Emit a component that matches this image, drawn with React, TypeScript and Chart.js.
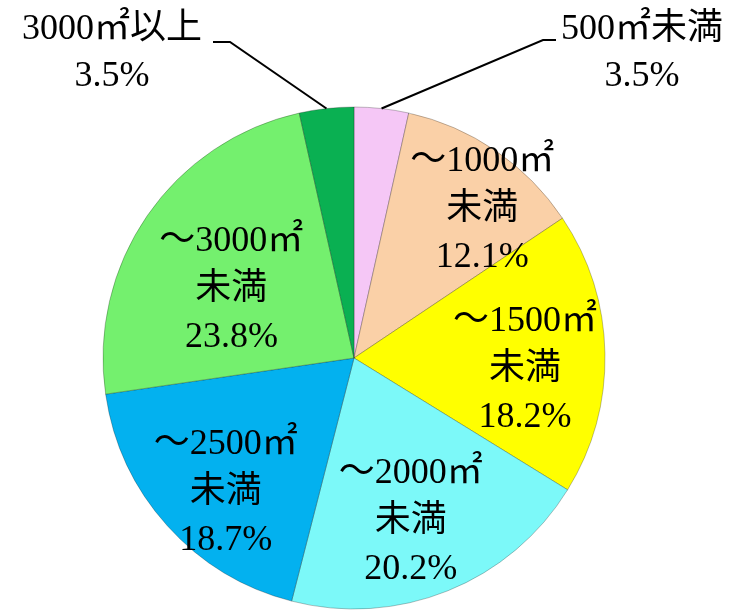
import React, { useEffect, useRef } from "react";
import { Chart, registerables } from "chart.js";

Chart.register(...registerables);

// ---- data ----
const categories = ["500㎡未満", "～1000㎡未満", "～1500㎡未満", "～2000㎡未満", "～2500㎡未満", "～3000㎡未満", "3000㎡以上"];
const shares = [3.5, 12.1, 18.2, 20.2, 18.7, 23.8, 3.5];
const labelTop = ["500㎡未満", "～1000㎡", "～1500㎡", "～2000㎡", "～2500㎡", "～3000㎡", "3000㎡以上"];
const labelMid = ["", "未満", "未満", "未満", "未満", "未満", ""];
const sliceColors = ["#F5C7F6", "#FAD0A7", "#FFFF00", "#7CF9F9", "#03B1EF", "#74F06E", "#0AB052"];

// label placement inside slices (fraction of radius, angle shift in degrees)
const insideRadius = [0, 0.78, 0.683, 0.69, 0.74, 0.56, 0];
const insideShift = [0, 6.5, 5.1, 2.8, -4.4, -5.3, 0];

const FONT = "36px 'Liberation Serif', 'Noto Sans CJK JP', serif";
const LINE = 48;

const callouts: Record<number, { tx: number; ty: number; ex: number; ey: number; hx: number }> = {
  0: { tx: 642, ty: 30, ex: 543, ey: 40, hx: 556 },
  6: { tx: 112, ty: 30, ex: 230, ey: 42, hx: 213 },
};

const labelPlugin = {
  id: "sliceLabels",
  afterDatasetsDraw(chart: any) {
    const ctx = chart.ctx as CanvasRenderingContext2D;
    const meta = chart.getDatasetMeta(0);
    ctx.save();
    ctx.font = FONT;
    ctx.fillStyle = "#000";
    ctx.textAlign = "center";
    ctx.textBaseline = "middle";
    meta.data.forEach((arc: any, i: number) => {
      const { x, y, startAngle, endAngle, outerRadius } = arc.getProps(["x", "y", "startAngle", "endAngle", "outerRadius"], true);
      const mid = (startAngle + endAngle) / 2;
      const pct = shares[i].toFixed(1) + "%";
      const c = callouts[i];
      if (c) {
        const sx = x + Math.cos(mid) * outerRadius;
        const sy = y + Math.sin(mid) * outerRadius;
        ctx.beginPath();
        ctx.strokeStyle = "#000";
        ctx.lineWidth = 2;
        ctx.moveTo(sx, sy);
        ctx.lineTo(c.ex, c.ey);
        ctx.lineTo(c.hx, c.ey);
        ctx.stroke();
        ctx.fillText(labelTop[i], c.tx, c.ty);
        ctx.fillText(pct, c.tx, c.ty + 47);
      } else {
        const a = mid + (insideShift[i] * Math.PI) / 180;
        const r = insideRadius[i] * outerRadius;
        const cx = x + Math.cos(a) * r;
        const cy = y + Math.sin(a) * r;
        ctx.fillText(labelTop[i], cx, cy - LINE);
        ctx.fillText(labelMid[i], cx, cy);
        ctx.fillText(pct, cx, cy + LINE);
      }
    });
    ctx.restore();
  },
};

export default function App() {
  const ref = useRef<HTMLCanvasElement | null>(null);
  useEffect(() => {
    document.body.style.margin = "0";
    if (!ref.current) return;
    const chart = new Chart(ref.current, {
      type: "pie",
      data: {
        labels: categories,
        datasets: [
          {
            data: shares,
            backgroundColor: sliceColors,
            borderColor: "rgba(0,0,0,0.25)",
            borderWidth: 1,
          },
        ],
      },
      options: {
        responsive: false,
        animation: false,
        radius: 251,
        layout: { padding: { left: 103, right: 135, top: 107, bottom: 1 } },
        plugins: {
          legend: { display: false },
          tooltip: { enabled: false },
          title: { display: false },
        },
      },
      plugins: [labelPlugin],
    });
    return () => chart.destroy();
  }, []);
  return <canvas ref={ref} width={740} height={610} style={{ display: "block" }} />;
}
